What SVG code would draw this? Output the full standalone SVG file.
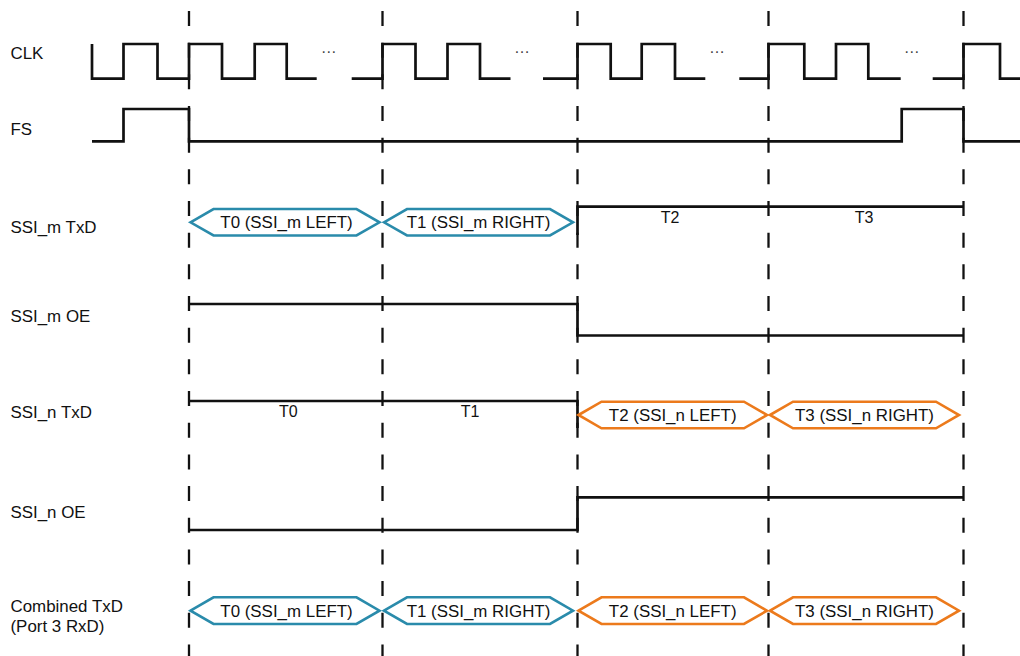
<svg xmlns="http://www.w3.org/2000/svg" width="1020" height="656" viewBox="0 0 1020 656">
<style>
.lbl{font-family:"Liberation Sans",Arial,sans-serif;font-size:16.9px;fill:#111}
.hx{font-family:"Liberation Sans",Arial,sans-serif;font-size:16.9px;fill:#111;text-anchor:middle}
.sm{font-family:"Liberation Sans",Arial,sans-serif;font-size:16px;fill:#111;text-anchor:middle}
.dots{font-family:"Liberation Sans",Arial,sans-serif;font-size:16px;fill:#444;text-anchor:middle}
.sig{fill:none;stroke:#111;stroke-width:2.7;stroke-linejoin:miter;stroke-linecap:butt}
.grid{stroke:#111;stroke-width:2.3;stroke-dasharray:15 16.67}
.teal{fill:#fff;stroke:#2a8bab;stroke-width:2.6;stroke-linejoin:miter}
.orange{fill:#fff;stroke:#ec7a1c;stroke-width:2.6;stroke-linejoin:miter}
</style>
<rect width="1020" height="656" fill="#fff"/>
<g id="connectors">
<line class="grid" x1="189" y1="11" x2="189" y2="656"/>
<line class="grid" x1="382.5" y1="11" x2="382.5" y2="656"/>
<line class="grid" x1="577.5" y1="11" x2="577.5" y2="656"/>
<line class="grid" x1="768.5" y1="11" x2="768.5" y2="656"/>
<line class="grid" x1="963.5" y1="11" x2="963.5" y2="656"/>
</g>
<g id="labels">
<text class="lbl" x="10.5" y="58.5">CLK</text>
<text class="lbl" x="10.5" y="134.5">FS</text>
<text class="lbl" x="10.5" y="233">SSI_m TxD</text>
<text class="lbl" x="10.5" y="321.5">SSI_m OE</text>
<text class="lbl" x="10.5" y="418.3">SSI_n TxD</text>
<text class="lbl" x="10.5" y="517.7">SSI_n OE</text>
<text class="lbl" x="10.5" y="612">Combined TxD</text>
<text class="lbl" x="10.5" y="631.5">(Port 3 RxD)</text>
</g>
<g id="clk">
<path class="sig" d="M92,44 V78.7 H123.5 V44 H157.5 V78.7 H189 V44 H222 V78.7 H254.7 V44 H286.7 V78.7 H316.7"/>
<path class="sig" d="M351.7,78.7 H382.5 V44 H415.5 V78.7 H447.5 V44 H480 V78.7 H510.5"/>
<path class="sig" d="M543,78.7 H577.5 V44 H610.7 V78.7 H641.7 V44 H675 V78.7 H705.3"/>
<path class="sig" d="M739.3,78.7 H768.5 V44 H804.3 V78.7 H836 V44 H868.3 V78.7 H900.7"/>
<path class="sig" d="M932.7,78.7 H963.5 V44 H1000 V78.7 H1020"/>
<text class="dots" x="328.7" y="53">…</text>
<text class="dots" x="522" y="53">…</text>
<text class="dots" x="717" y="53">…</text>
<text class="dots" x="911.7" y="53">…</text>
</g>
<g id="fs">
<path class="sig" d="M92,141.3 H123.5 V109 H189 V141.3 H901.7 V109 H963.5 V141.3 H1020"/>
</g>
<g id="ssi_m_txd">
<polygon class="teal" points="190.5,222.3 213.5,209 356.5,209 379.5,222.3 356.5,235.5 213.5,235.5"/>
<text class="hx" x="286.5" y="228.4">T0 (SSI_m LEFT)</text>
<polygon class="teal" points="384,222.3 407,209 550,209 573,222.3 550,235.5 407,235.5"/>
<text class="hx" x="478.5" y="228.4">T1 (SSI_m RIGHT)</text>
<path class="sig" d="M577.5,235 V206.7 H963.5"/>
<text class="sm" x="670" y="223.3">T2</text>
<text class="sm" x="864" y="223.3">T3</text>
</g>
<g id="ssi_m_oe">
<path class="sig" d="M189,304 H577.5 V335.5 H963.5"/>
</g>
<g id="ssi_n_txd">
<path class="sig" d="M189,401 H577.5 V428"/>
<text class="sm" x="288.3" y="417.3">T0</text>
<text class="sm" x="470" y="417.3">T1</text>
<polygon class="orange" points="578.5,415 601.5,401.7 744,401.7 767,415 744,428.3 601.5,428.3"/>
<text class="hx" x="672.7" y="421.1">T2 (SSI_n LEFT)</text>
<polygon class="orange" points="770,415 793,401.7 936,401.7 959,415 936,428.3 793,428.3"/>
<text class="hx" x="864.5" y="421.1">T3 (SSI_n RIGHT)</text>
</g>
<g id="ssi_n_oe">
<path class="sig" d="M189,530 H577.5 V497.3 H963.5"/>
</g>
<g id="combined_txd">
<polygon class="teal" points="190.5,610.7 213.5,597.3 356.5,597.3 379.5,610.7 356.5,624 213.5,624"/>
<text class="hx" x="286.5" y="616.8">T0 (SSI_m LEFT)</text>
<polygon class="teal" points="384,610.7 407,597.3 550,597.3 573,610.7 550,624 407,624"/>
<text class="hx" x="478.5" y="616.8">T1 (SSI_m RIGHT)</text>
<polygon class="orange" points="578.5,610.7 601.5,597.3 744,597.3 767,610.7 744,624 601.5,624"/>
<text class="hx" x="672.7" y="616.8">T2 (SSI_n LEFT)</text>
<polygon class="orange" points="770,610.7 793,597.3 936,597.3 959,610.7 936,624 793,624"/>
<text class="hx" x="864.5" y="616.8">T3 (SSI_n RIGHT)</text>
</g>
</svg>
